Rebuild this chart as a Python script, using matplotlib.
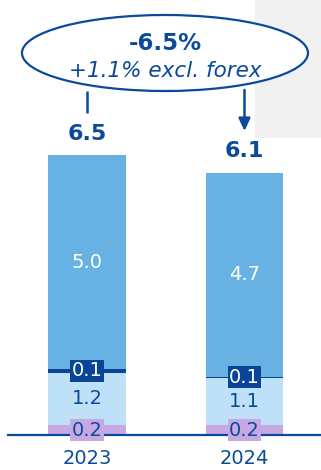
import matplotlib
matplotlib.use('Agg')
import matplotlib.pyplot as plt
from matplotlib.patches import Ellipse, Rectangle

# ---- data ----
years = ['2023', '2024']
seg_other = [0.23, 0.23]   # purple bottom segment
seg_light = [1.22, 1.10]   # light blue segment
seg_dark = [0.09, 0.03]    # dark navy thin segment
seg_main = [4.96, 4.74]    # main blue segment
lab_other = ['0.2', '0.2']
lab_light = ['1.2', '1.1']
lab_dark = ['0.1', '0.1']
lab_main = ['5.0', '4.7']
totals = ['6.5', '6.1']
change_main = '-6.5%'
change_sub = '+1.1% excl. forex'

# ---- style ----
NAVY = '#0B4A9B'
C_MAIN = '#67B2E3'
C_LIGHT = '#BEE1F8'
C_PURPLE = '#C8A8E3'
C_DARK = '#0A4595'
FONT = 'DejaVu Sans'
plt.rcParams['font.family'] = [FONT]

W, H = 321, 470
fig = plt.figure(figsize=(W / 100, H / 100), dpi=100)
fig.patch.set_facecolor('white')

base_px = 435
px_per_unit_y = 43.0
px_per_unit_x = 157.5
x0_px = 87
ax = fig.add_axes([0, (H - base_px) / H, 1, base_px / H])
ax.set_xlim(-x0_px / px_per_unit_x, (W - x0_px) / px_per_unit_x)
ax.set_ylim(0, base_px / px_per_unit_y)
ax.axis('off')
ax.patch.set_alpha(0)

# subtle grey background in the top-right corner
ax.add_patch(Rectangle((255 / W, 1 - 137 / H), 66 / W, 137 / H,
                       transform=fig.transFigure, color='#F1F1F1',
                       zorder=0, clip_on=False))

x = [0, 1]
bw = 0.495
bottoms = [0.0, 0.0]
layers = [(seg_other, C_PURPLE), (seg_light, C_LIGHT),
          (seg_dark, C_DARK), (seg_main, C_MAIN)]
centers = []
for vals, col in layers:
    ax.bar(x, vals, bottom=bottoms, width=bw, color=col, edgecolor='none',
           zorder=2)
    centers.append([b + v / 2 for b, v in zip(bottoms, vals)])
    bottoms = [b + v for b, v in zip(bottoms, vals)]

# baseline
ax.plot([-0.50, 1.6], [0, 0], color=NAVY, lw=1.6, zorder=3, clip_on=False)

FS = 14
# labels
for i in range(2):
    ax.text(x[i], centers[3][i], lab_main[i], color='white', fontsize=FS,
            ha='center', va='center', zorder=5)
    ax.text(x[i], centers[1][i], lab_light[i], color=NAVY, fontsize=FS,
            ha='center', va='center', zorder=5)
    ax.text(x[i], centers[2][i], lab_dark[i], color='white', fontsize=FS,
            ha='center', va='center', zorder=5,
            bbox=dict(boxstyle='square,pad=0.08', fc=C_DARK, ec='none'))
    ax.text(x[i], centers[0][i], lab_other[i], color=NAVY, fontsize=FS,
            ha='center', va='center', zorder=5,
            bbox=dict(boxstyle='square,pad=0.08', fc=C_PURPLE, ec='none'))
    ax.text(x[i], bottoms[i] + 0.5, totals[i], color=NAVY, fontsize=16,
            fontweight='bold', ha='center', va='center', zorder=5)
    ax.text(x[i], -0.54, years[i], color=NAVY, fontsize=FS,
            ha='center', va='center', zorder=5)

# ellipse callout
ecx, ecy = 0.495, (base_px - 53) / px_per_unit_y
ew, eh = 286 / px_per_unit_x, 76 / px_per_unit_y
ax.add_patch(Ellipse((ecx, ecy), ew, eh, fc='white', ec=NAVY, lw=1.6,
                     zorder=6, clip_on=False))
ax.text(ecx, (base_px - 43) / px_per_unit_y, change_main, color=NAVY,
        fontsize=16.5, fontweight='bold', ha='center', va='center', zorder=7)
ax.text(ecx, (base_px - 71) / px_per_unit_y, change_sub, color=NAVY,
        fontsize=15.5, fontstyle='italic', ha='center', va='center', zorder=7)

# left connector
ax.plot([0, 0], [(base_px - 91) / px_per_unit_y, (base_px - 113) / px_per_unit_y],
        color=NAVY, lw=1.8, zorder=5, solid_capstyle='butt')
# right arrow
ax.annotate('', xy=(1, (base_px - 131) / px_per_unit_y),
            xytext=(1, (base_px - 90) / px_per_unit_y),
            arrowprops=dict(arrowstyle='-|>,head_width=0.35,head_length=0.75',
                            color=NAVY, lw=1.8, shrinkA=0, shrinkB=0),
            zorder=5)

fig.savefig('out.png', dpi=100, facecolor=fig.get_facecolor())
